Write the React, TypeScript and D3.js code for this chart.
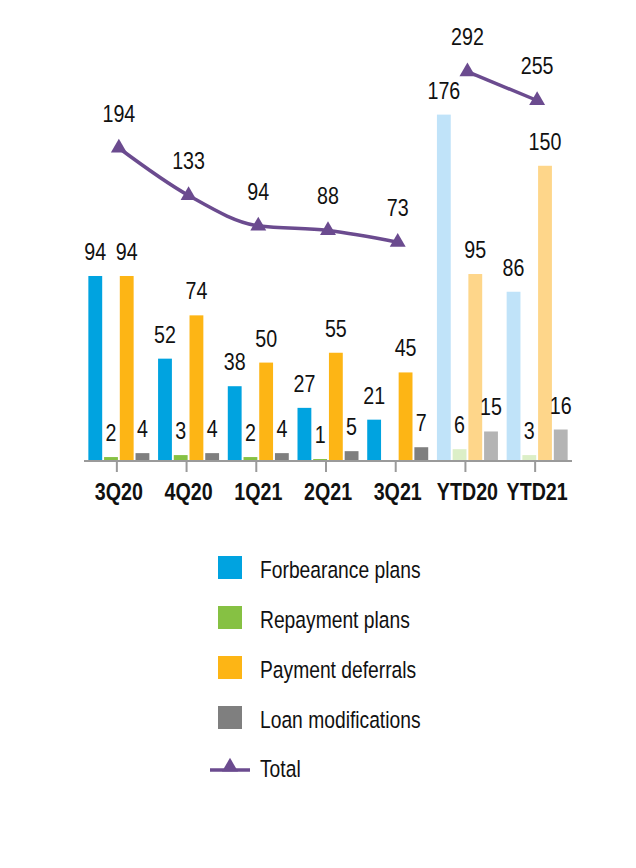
import React from "react";
import * as d3 from "d3";

const categories = ["3Q20", "4Q20", "1Q21", "2Q21", "3Q21", "YTD20", "YTD21"];
const seriesNames = ["Forbearance plans", "Repayment plans", "Payment deferrals", "Loan modifications"];
const forbearance = [94, 52, 38, 27, 21, 176, 86];
const repayment: (number | null)[] = [2, 3, 2, 1, null, 6, 3];
const deferrals = [94, 74, 50, 55, 45, 95, 150];
const modifications = [4, 4, 4, 5, 7, 15, 16];
const totalQuarterly = [194, 133, 94, 88, 73];
const totalYtd = [292, 255];
const ytdCategories = ["YTD20", "YTD21"];

const darkColors = ["#00a3e0", "#86c143", "#fdb515", "#7f7f7f"];
const lightColors = ["#c0e3f9", "#dcefc7", "#fed68a", "#b4b4b4"];
const lineColor = "#6b4b8f";

const FONT = "'Liberation Sans', Arial, Helvetica, sans-serif";
const SQ = 0.82;

function NText(props: {
  x: number;
  y: number;
  size: number;
  anchor?: "start" | "middle" | "end";
  bold?: boolean;
  children: React.ReactNode;
}) {
  const { x, y, size, anchor = "start", bold = false, children } = props;
  return (
    <g transform={`translate(${x},${y}) scale(${SQ},1)`}>
      <text x={0} y={0} textAnchor={anchor} fontSize={size} fontWeight={bold ? "bold" : "normal"} fill="#111">
        {children}
      </text>
    </g>
  );
}

export default function App() {
  const W = 636;
  const H = 868;
  const baseY = 461;
  const x = d3.scaleBand<string>().domain(categories).range([84, 572]).padding(0);
  const inner = d3.scaleBand<string>().domain(seriesNames).range([-30.5, 30.5]).paddingInner(0.12);
  const y = d3.scaleLinear().domain([0, 176]).range([baseY, 114.6]);
  const yLine = d3.scaleLinear().domain([0, 292]).range([299, 71.7]);
  const cx = (c: string) => (x(c) ?? 0) + x.bandwidth() / 2;

  const allSeries = [forbearance, repayment, deferrals, modifications];

  const line = d3
    .line<number>()
    .x((_, i) => cx(categories[i]))
    .y((d) => yLine(d))
    .curve(d3.curveMonotoneX);
  const lineYtd = d3
    .line<number>()
    .x((_, i) => cx(ytdCategories[i]))
    .y((d) => yLine(d));

  const tri = d3.symbol().type(d3.symbolTriangle).size(110)() as string;

  const legendY0 = 556;
  const legendStep = 50;

  return (
    <svg width={W} height={H} style={{ display: "block", position: "absolute", left: 0, top: 0 }} fontFamily={FONT}>
      <rect width={W} height={H} fill="#ffffff" />
      {/* bars */}
      {categories.map((c, ci) => {
        const ytd = c.startsWith("YTD");
        return (
          <g key={c}>
            {allSeries.map((s, si) => {
              const v = s[ci];
              if (v === null || v === undefined) return null;
              const bx = cx(c) + (inner(seriesNames[si]) ?? 0);
              const top = y(v);
              return (
                <g key={si}>
                  <rect
                    x={bx}
                    y={top}
                    width={inner.bandwidth()}
                    height={baseY - top}
                    fill={ytd ? lightColors[si] : darkColors[si]}
                  />
                  <NText x={bx + inner.bandwidth() / 2} y={top - 16} size={24} anchor="middle">
                    {v}
                  </NText>
                </g>
              );
            })}
          </g>
        );
      })}
      {/* axis */}
      <line x1={84} x2={572} y1={baseY} y2={baseY} stroke="#9a9a9a" strokeWidth={2} />
      {categories.map((c) => (
        <g key={c}>
          <line x1={cx(c) - 2} x2={cx(c) - 2} y1={baseY} y2={472} stroke="#9a9a9a" strokeWidth={2} />
          <NText x={cx(c)} y={500} size={24} anchor="middle" bold>
            {c}
          </NText>
        </g>
      ))}
      {/* total lines */}
      <path d={line(totalQuarterly) ?? ""} fill="none" stroke={lineColor} strokeWidth={3.5} />
      <path d={lineYtd(totalYtd) ?? ""} fill="none" stroke={lineColor} strokeWidth={3.5} />
      {totalQuarterly.map((v, i) => (
        <g key={"q" + i}>
          <path d={tri} transform={`translate(${cx(categories[i])},${yLine(v)})`} fill={lineColor} />
          <NText x={cx(categories[i])} y={yLine(v) - 26} size={24} anchor="middle">
            {v}
          </NText>
        </g>
      ))}
      {totalYtd.map((v, i) => (
        <g key={"y" + i}>
          <path d={tri} transform={`translate(${cx(ytdCategories[i])},${yLine(v)})`} fill={lineColor} />
          <NText x={cx(ytdCategories[i])} y={yLine(v) - 27} size={24} anchor="middle">
            {v}
          </NText>
        </g>
      ))}
      {/* legend */}
      {seriesNames.map((n, i) => (
        <g key={n}>
          <rect x={218} y={legendY0 + i * legendStep} width={24} height={23} fill={darkColors[i]} />
          <NText x={260} y={legendY0 + i * legendStep + 22} size={23.5}>
            {n}
          </NText>
        </g>
      ))}
      <g>
        <line x1={210} x2={250} y1={770} y2={770} stroke={lineColor} strokeWidth={3.5} />
        <path d={tri} transform={`translate(230,767)`} fill={lineColor} />
        <NText x={260} y={777} size={23.5}>
          Total
        </NText>
      </g>
    </svg>
  );
}
